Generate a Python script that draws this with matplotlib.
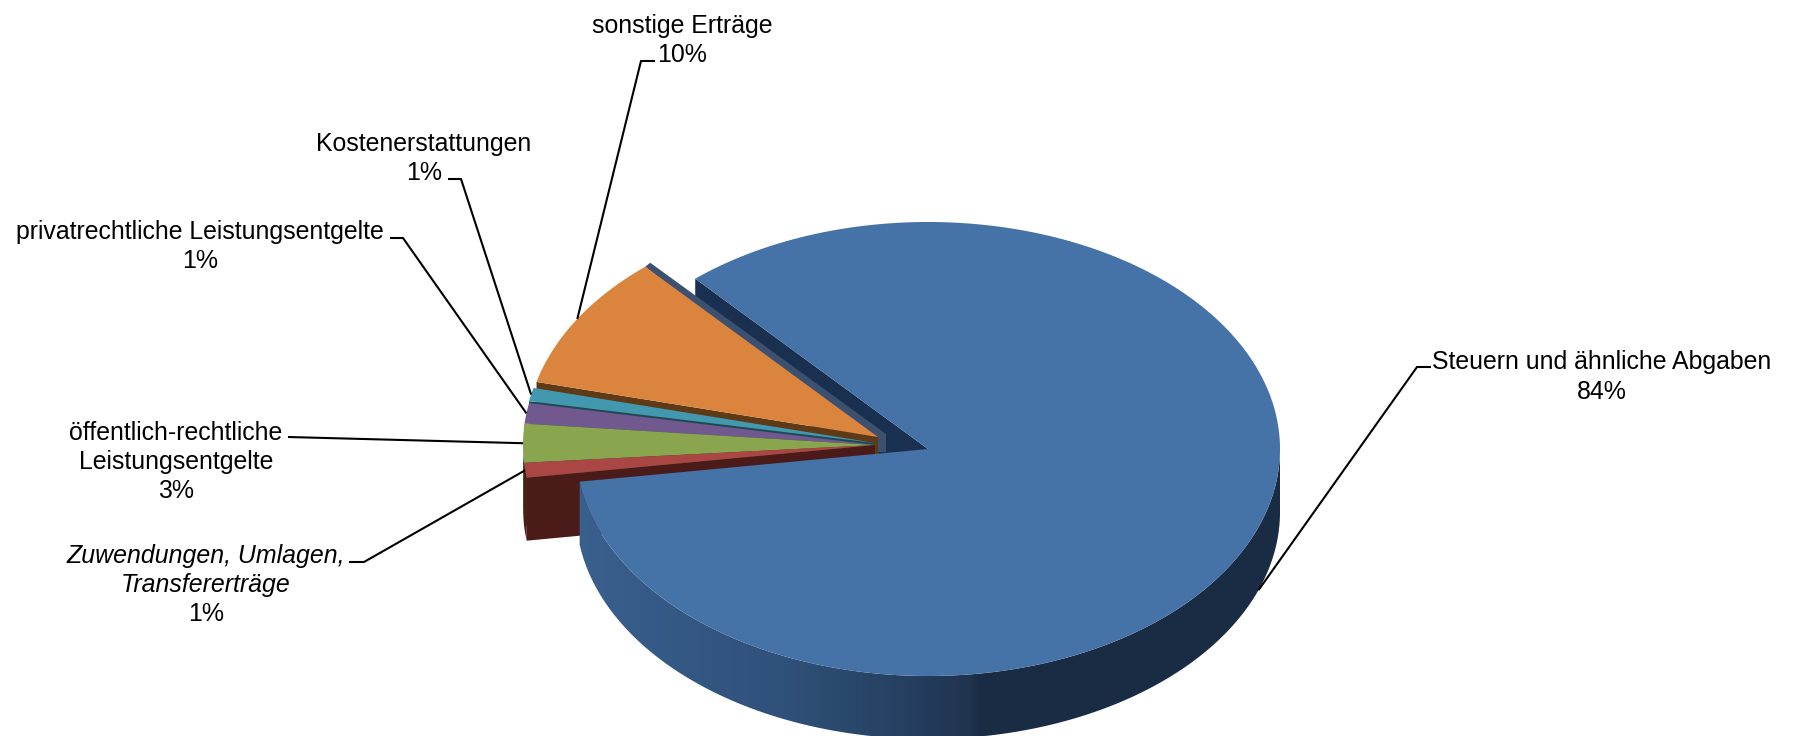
import matplotlib
matplotlib.use('Agg')
import matplotlib.pyplot as plt
from matplotlib.colors import LinearSegmentedColormap
from matplotlib.patches import Polygon
import numpy as np

plt.rcParams['font.family'] = ['Liberation Sans', 'DejaVu Sans']

W, H = 1795, 736

# clockwise from the big slice
names = ['Steuern und ähnliche Abgaben', 'Zuwendungen, Umlagen,\nTransfererträge',
         'öffentlich-rechtliche\nLeistungsentgelte', 'privatrechtliche Leistungsentgelte',
         'Kostenerstattungen', 'sonstige Erträge']
shares = [84.2, 1.05, 2.75, 1.45, 0.95, 9.6]

top_colors = ['#4572a7', '#aa4643', '#89a54e', '#71588f', '#4198af', '#db843d']
side_colors = ['#1a3050', '#4a1b18', '#3f4f22', '#33264a', '#1c4a58', '#5e3a16']

# layout in pixels
apexes = [(928, 449), (875, 445), (875, 445), (875, 445), (875, 443), (878, 437)]
RX, RY, DEPTH = 352, 227, 63
START = -41.4
# centre x / first line y of each label, and the leader's elbow points
label_x = [1602, 206, 176, 200, 424, 682]
label_y = [362.5, 555.5, 432.5, 231.5, 143.5, 25.5]
elbows = [[(1431, 367), (1417, 367)],
          [(349, 562), (364, 562)],
          [(288, 437)],
          [(390, 238), (403, 238)],
          [(448, 179), (461, 179)],
          [(655, 61), (641, 61)]]
LINE_H = 29.2


def ell(apex, theta):
    t = np.radians(theta)
    return apex[0] + RX * np.sin(t), apex[1] - RY * np.cos(t)


def arc(apex, t0, t1):
    ts = np.linspace(t0, t1, max(int(abs(t1 - t0) * 2), 2))
    x, y = ell(apex, ts)
    return np.column_stack([x, y])


fig = plt.figure(figsize=(W / 100, H / 100), dpi=100)
ax = fig.add_axes([0, 0, 1, 1])

spans = np.array(shares) / sum(shares) * 360
starts = START + np.concatenate([[0], np.cumsum(spans)[:-1]])
ends = starts + spans
mids = (starts + ends) / 2

# cut face of the big slice, behind everything
blue_edge = np.array(ell(apexes[0], START))
ax.add_patch(Polygon([blue_edge, apexes[0], (apexes[0][0], apexes[0][1] + DEPTH),
                      (blue_edge[0], blue_edge[1] + DEPTH)], fc=side_colors[0], ec='none', zorder=1))

# thin far side of the orange slice
tip = np.array(ell(apexes[5], ends[5]))
ax.add_patch(Polygon([tip, tip + (5, -4), (apexes[5][0] + 8, apexes[5][1] - 3),
                      (apexes[5][0] + 8, apexes[5][1] + 15), (apexes[5][0], apexes[5][1] + 15)],
                     fc='#3d5070', ec='none', zorder=1.5))

# small slices, top one first so each covers the cut face of the one above
z = 2
for i in [5, 4, 3, 2, 1]:
    apex = apexes[i]
    e = np.array(ell(apex, starts[i]))
    ax.add_patch(Polygon([apex, e, e + (0, DEPTH), (apex[0], apex[1] + DEPTH)],
                         fc=side_colors[i], ec='none', zorder=z))
    # outer rim only shows below the left-most point
    lo = max(starts[i], 180)
    hi = min(ends[i], 270)
    if starts[i] < 270 and lo < hi:
        pts = arc(apex, lo, hi)
        ax.add_patch(Polygon(np.vstack([pts, (pts + (0, DEPTH))[::-1]]),
                             fc=side_colors[i], ec='none', zorder=z))
    ax.add_patch(Polygon(np.vstack([[apex], arc(apex, starts[i], ends[i])]),
                         fc=top_colors[i], ec='none', zorder=z + 0.5))
    z += 1

# big slice: rim with shading, then the top face
rim = arc(apexes[0], 90, ends[0])
rim_poly = Polygon(np.vstack([rim, (rim + (0, DEPTH))[::-1]]), fc='none', ec='none',
                   transform=ax.transData, zorder=10)
ax.add_patch(rim_poly)
shade = LinearSegmentedColormap.from_list('rim', [(0, '#3a608f'), (0.3, '#2f5079'), (0.45, '#264263'),
                                                   (0.56, '#20344f'), (0.575, '#1a2c44'), (1, '#1a2c44')])
im = ax.imshow(np.linspace(0, 1, 500)[None, :], cmap=shade, aspect='auto', zorder=10,
               extent=[apexes[0][0] - RX, apexes[0][0] + RX, H, 0])
im.set_clip_path(rim_poly)
ax.add_patch(Polygon(np.vstack([[apexes[0]], arc(apexes[0], starts[0], ends[0])]),
                     fc=top_colors[0], ec='none', zorder=11))

# labels and leader lines
for i, name in enumerate(names):
    x0, y0 = ell(apexes[i], mids[i])
    if i == 0:
        y0 += DEPTH
    pts = np.array(elbows[i] + [(x0, y0)])
    ax.plot(pts[:, 0], pts[:, 1], color='black', lw=1.5, zorder=20, solid_capstyle='butt')
    lines = name.split('\n') + [f'{shares[i]:.0f}%']
    for j, line in enumerate(lines):
        style = 'italic' if name.startswith('Zuwendungen') and j < len(lines) - 1 else 'normal'
        ax.text(label_x[i], label_y[i] + j * LINE_H, line, ha='center', va='center',
                fontsize=17.9, style=style, color='black', zorder=21)

ax.set_xlim(0, W)
ax.set_ylim(H, 0)
ax.axis('off')

fig.savefig('out.png', dpi=100, facecolor='white')
